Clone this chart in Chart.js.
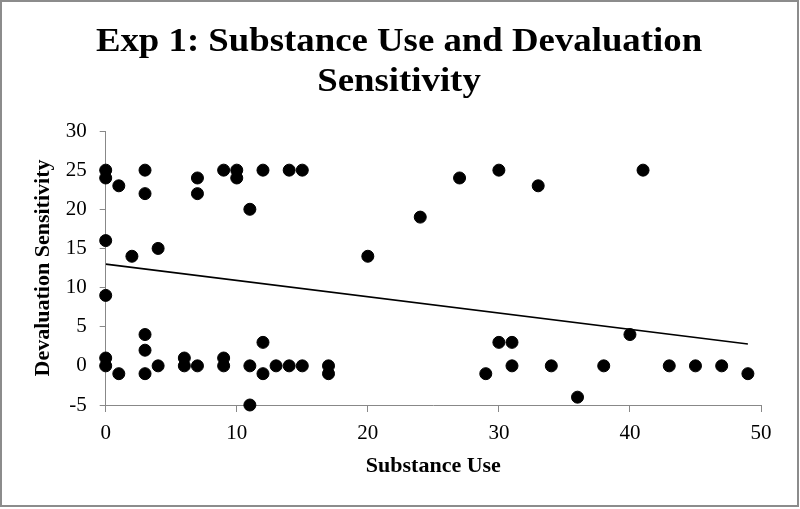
<!DOCTYPE html>
<html>
<head>
<meta charset="utf-8">
<script src="https://cdn.jsdelivr.net/npm/chart.js@4"></script>
<style>
  body { margin: 0; background: #fff; }
  canvas { display: block; }
</style>
</head>
<body>
<canvas id="chart" width="800" height="509"></canvas>
<script>
// Données (x = Substance Use, y = Devaluation Sensitivity)
const substanceUse = [0, 0, 1, 3, 3, 7, 7, 9, 10, 10, 11, 12, 14, 15, 0, 2, 4,
    20, 24, 27, 30, 33, 41,
    0, 0, 0, 1, 3, 3, 3, 4, 6, 6, 7, 9, 9, 11, 11, 12, 12, 13, 14, 15, 17, 17,
    29, 30, 31, 31, 34, 36, 38, 40, 43, 45, 47, 49];
const devaluation = [25, 24, 23, 25, 22, 24, 22, 25, 25, 24, 20, 25, 25, 25, 16, 14, 15,
    14, 19, 24, 25, 23, 25,
    9, 1, 0, -1, 4, 2, -1, 0, 1, 0, 0, 1, 0, 0, -5, 3, -1, 0, 0, 0, 0, -1,
    -1, 3, 3, 0, 0, -4, 0, 4, 0, 0, 0, -1];

// Ligne de tendance (extrémités)
const trendX = [0, 49];
const trendY = [13.0, 2.8];

const titleLines = ['Exp 1: Substance Use and Devaluation', 'Sensitivity'];

const serif = "'Liberation Serif', 'Times New Roman', serif";
const axisColor = '#888888';

// Cadre gris autour du graphique
const framePlugin = {
    id: 'frame',
    beforeDraw(chart) {
        const ctx = chart.ctx;
        ctx.save();
        ctx.fillStyle = '#ffffff';
        ctx.fillRect(0, 0, chart.width, chart.height);
        ctx.strokeStyle = '#8c8c8c';
        ctx.lineWidth = 2;
        ctx.strokeRect(1, 1, 797, 505);
        ctx.restore();
    }
};

// Titre centré sur la page, un peu étiré comme dans l'original
const titlePlugin = {
    id: 'pageTitle',
    afterDraw(chart) {
        const ctx = chart.ctx;
        ctx.save();
        ctx.fillStyle = '#000000';
        ctx.font = 'bold 33px ' + serif;
        ctx.textAlign = 'center';
        ctx.textBaseline = 'middle';
        ctx.translate(399, 0);
        ctx.scale(1.115, 1);
        titleLines.forEach((line, i) => ctx.fillText(line, 0, 42.5 + i * 40.3));
        ctx.restore();
    }
};

new Chart(document.getElementById('chart'), {
    type: 'scatter',
    data: {
        datasets: [{
            data: substanceUse.map((x, i) => ({ x: x, y: devaluation[i] })),
            backgroundColor: '#000000',
            borderColor: '#000000',
            pointRadius: 6,
            pointHoverRadius: 6,
            clip: false,
        }, {
            type: 'line',
            data: trendX.map((x, i) => ({ x: x, y: trendY[i] })),
            borderColor: '#000000',
            borderWidth: 1.6,
            pointRadius: 0,
            fill: false,
        }]
    },
    options: {
        responsive: false,
        animation: false,
        layout: { padding: { left: 10, right: 39, top: 131, bottom: 10 } },
        plugins: {
            legend: { display: false },
            tooltip: { enabled: false },
            title: { display: false }
        },
        scales: {
            x: {
                type: 'linear',
                min: 0,
                max: 50,
                afterFit: s => { s.height = 94; },
                ticks: { stepSize: 10, color: '#000000', padding: 9, font: { family: serif, size: 21 } },
                grid: { display: true, drawOnChartArea: false, drawTicks: true, tickLength: 7, color: axisColor },
                border: { color: axisColor, width: 1 },
                title: {
                    display: true,
                    text: 'Substance Use',
                    color: '#000000',
                    font: { family: serif, size: 22, weight: 'bold', lineHeight: 1.2 },
                    padding: { top: 0, bottom: 19 },
                }
            },
            y: {
                min: -5,
                max: 30,
                afterFit: s => { s.width = 95.7; },
                ticks: { stepSize: 5, color: '#000000', padding: 13, font: { family: serif, size: 21 } },
                grid: { display: true, drawOnChartArea: false, drawTicks: true, tickLength: 6, color: axisColor },
                border: { color: axisColor, width: 1 },
                title: {
                    display: true,
                    text: 'Devaluation Sensitivity',
                    color: '#000000',
                    font: { family: serif, size: 22, weight: 'bold', lineHeight: 1.2 },
                    padding: { top: 20, bottom: 0 },
                }
            }
        }
    },
    plugins: [framePlugin, titlePlugin]
});
</script>
</body>
</html>
